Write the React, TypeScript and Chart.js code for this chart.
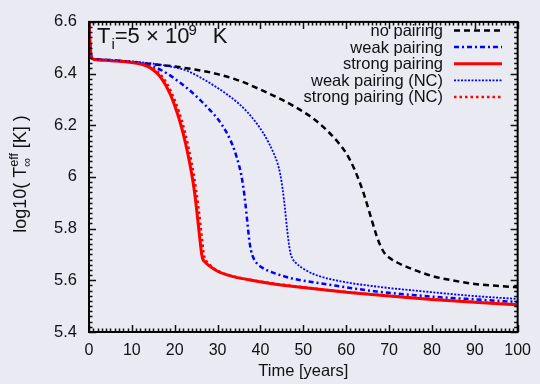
import React, { useEffect, useRef } from "react";
import { Chart, registerables } from "chart.js";
Chart.register(...registerables);

const FONT = '"Liberation Sans", Arial, Helvetica, sans-serif';

const xTicks = [0, 10, 20, 30, 40, 50, 60, 70, 80, 90, 100];
const yTicks = [5.4, 5.6, 5.8, 6, 6.2, 6.4, 6.6];

const seriesLabels = ["no pairing", "weak pairing", "strong pairing", "weak pairing (NC)", "strong pairing (NC)"];

const noPairingT = [0, 0.3, 0.7, 2, 10, 20, 25, 30, 35, 40, 45, 48, 50, 52, 54, 56, 58, 60, 61, 62, 63, 64, 65, 66, 67, 68, 69, 70, 72, 75, 80, 85, 90, 95, 100];
const noPairingV = [6.6, 6.5, 6.458, 6.455, 6.444, 6.427, 6.415, 6.398, 6.373, 6.338, 6.299, 6.272, 6.252, 6.23, 6.203, 6.172, 6.136, 6.092, 6.062, 6.027, 5.986, 5.94, 5.887, 5.831, 5.777, 5.733, 5.704, 5.688, 5.668, 5.646, 5.617, 5.599, 5.586, 5.579, 5.573];

const weakT = [0, 0.3, 0.7, 2, 5, 10, 13, 15, 17, 19, 21, 23, 25, 27, 29, 30, 31, 32, 33, 34, 35, 35.5, 36, 36.5, 37, 37.4, 37.8, 38.4, 39.2, 40.3, 42.6, 45, 48, 55.7, 66.5, 80, 90, 100];
const weakV = [6.6, 6.5, 6.458, 6.454, 6.451, 6.445, 6.436, 6.427, 6.412, 6.392, 6.368, 6.342, 6.313, 6.28, 6.245, 6.225, 6.202, 6.175, 6.142, 6.1, 6.045, 6.01, 5.96, 5.895, 5.815, 5.755, 5.715, 5.685, 5.665, 5.65, 5.632, 5.618, 5.605, 5.584, 5.558, 5.537, 5.526, 5.516];

const strongT = [0, 0.3, 0.7, 2, 5, 8, 10, 12, 13, 14, 15, 16, 17, 18, 19, 20, 21, 22, 23, 24, 24.5, 25, 25.5, 26, 26.3, 26.6, 27, 28, 30, 33, 37, 42, 50, 60, 70, 80, 90, 100];
const strongV = [6.6, 6.5, 6.458, 6.453, 6.45, 6.447, 6.443, 6.437, 6.432, 6.425, 6.414, 6.399, 6.379, 6.352, 6.318, 6.276, 6.226, 6.166, 6.094, 6.008, 5.955, 5.89, 5.815, 5.74, 5.7, 5.68, 5.672, 5.657, 5.635, 5.617, 5.603, 5.589, 5.572, 5.554, 5.539, 5.526, 5.515, 5.505];

const weakNcT = [0, 0.3, 0.7, 2, 5, 10, 15, 20, 23, 26, 29, 32, 35, 37, 39, 40.5, 42, 43, 44, 44.6, 45.2, 45.7, 46.2, 46.6, 47, 47.5, 48.2, 50, 52.7, 58.8, 66.5, 80, 90, 100];
const weakNcV = [6.6, 6.5, 6.458, 6.455, 6.452, 6.447, 6.438, 6.424, 6.41, 6.385, 6.355, 6.322, 6.283, 6.25, 6.21, 6.174, 6.13, 6.095, 6.052, 6.012, 5.95, 5.88, 5.8, 5.745, 5.705, 5.683, 5.668, 5.645, 5.622, 5.596, 5.577, 5.554, 5.539, 5.528];

const strongNcT = [0, 0.3, 0.7, 2, 5, 8, 10, 12, 13, 14, 15, 16, 17, 18, 19, 20, 21, 22, 23, 24, 24.5, 25, 25.5, 26, 26.4, 26.7, 27, 27.4, 28, 30, 33, 37, 42, 50, 60, 70, 80, 90, 100];
const strongNcV = [6.6, 6.5, 6.458, 6.454, 6.451, 6.448, 6.445, 6.44, 6.436, 6.43, 6.421, 6.408, 6.39, 6.366, 6.335, 6.297, 6.252, 6.197, 6.13, 6.05, 6.002, 5.948, 5.885, 5.815, 5.755, 5.71, 5.685, 5.674, 5.662, 5.637, 5.618, 5.604, 5.59, 5.573, 5.555, 5.54, 5.527, 5.516, 5.506];

const pts = (t: number[], v: number[]) => t.map((x, i) => ({ x, y: v[i] }));

const BG = "#eaeaf2";

const overlay = {
  id: "overlay",
  beforeDraw(chart: any) {
    const ctx = chart.ctx;
    ctx.save();
    ctx.fillStyle = BG;
    ctx.fillRect(0, 0, chart.width, chart.height);
    ctx.restore();
  },
  afterDatasetsDraw(chart: any) {
    const ctx = chart.ctx;
    const { left, right, top, bottom } = chart.chartArea;
    const xs = chart.scales.x;
    const ys = chart.scales.y;
    ctx.save();
    ctx.strokeStyle = "#111";
    ctx.lineWidth = 1.5;
    ctx.beginPath();
    for (let k = 0; k <= 100; k++) {
      const px = Math.round(xs.getPixelForValue(k)) + 0.5;
      const len = k % 10 === 0 ? 7 : 3.5;
      ctx.moveTo(px, bottom);
      ctx.lineTo(px, bottom - len);
      ctx.moveTo(px, top);
      ctx.lineTo(px, top + len);
    }
    for (let k = 0; k <= 60; k++) {
      const v = 5.4 + k * 0.02;
      const py = Math.round(ys.getPixelForValue(v)) + 0.5;
      const len = k % 10 === 0 ? 7 : 3.5;
      ctx.moveTo(left, py);
      ctx.lineTo(left + len, py);
      ctx.moveTo(right, py);
      ctx.lineTo(right - len, py);
    }
    ctx.stroke();
    ctx.strokeStyle = "#000";
    ctx.lineWidth = 2;
    ctx.strokeRect(left, top, right - left, bottom - top);
    ctx.restore();
  },
  afterDraw(chart: any) {
    const ctx = chart.ctx;
    const { left, right } = chart.chartArea;
    ctx.save();
    ctx.fillStyle = "#111";
    // legend
    ctx.font = `16.5px ${FONT}`;
    ctx.textAlign = "right";
    ctx.textBaseline = "alphabetic";
    chart.data.datasets.forEach((ds: any, i: number) => {
      const yc = 30.5 + i * 16.6;
      ctx.fillStyle = "#111";
      ctx.fillText(ds.label, 443, yc + 5.5);
      ctx.beginPath();
      ctx.strokeStyle = ds.borderColor;
      ctx.lineWidth = ds.borderWidth;
      ctx.setLineDash(ds.borderDash || []);
      ctx.moveTo(454, yc);
      ctx.lineTo(502, yc);
      ctx.stroke();
    });
    ctx.setLineDash([]);
    // x title
    ctx.fillStyle = "#111";
    ctx.textAlign = "center";
    ctx.font = `16.5px ${FONT}`;
    ctx.fillText("Time [years]", (left + right) / 2, 376);
    // annotation T_i = 5 x 10^9 K
    ctx.textAlign = "left";
    let x = 97;
    const big = `22px ${FONT}`;
    const small = `15px ${FONT}`;
    ctx.font = big;
    ctx.fillText("T", x, 43);
    x += ctx.measureText("T").width;
    ctx.font = small;
    ctx.fillText("i", x + 1, 49);
    x += ctx.measureText("i").width + 1;
    ctx.font = big;
    ctx.fillText("=5 \u00d7 10", x, 43);
    x += ctx.measureText("=5 \u00d7 10").width;
    ctx.font = small;
    ctx.fillText("9", x - 1, 35);
    x += ctx.measureText("9").width;
    ctx.font = big;
    ctx.fillText("K", x + 15, 43);
    // y title
    ctx.translate(26, 174);
    ctx.rotate(-Math.PI / 2);
    const main = `18px ${FONT}`;
    const sub = `12.5px ${FONT}`;
    ctx.font = main;
    const w1 = ctx.measureText("log10( T").width;
    const w3 = ctx.measureText(" [K] )").width;
    ctx.font = sub;
    const w2 = Math.max(ctx.measureText("eff").width, ctx.measureText("\u221e").width);
    const W = w1 + w2 + w3;
    let lx = -W / 2;
    ctx.font = main;
    ctx.fillText("log10( T", lx, 0);
    lx += w1;
    ctx.font = sub;
    ctx.fillText("eff", lx, -8.5);
    ctx.fillText("\u221e", lx, 5);
    lx += w2;
    ctx.font = main;
    ctx.fillText(" [K] )", lx, 0);
    ctx.restore();
  },
};

export default function App() {
  const ref = useRef<HTMLCanvasElement | null>(null);
  useEffect(() => {
    if (!ref.current) return;
    const chart = new Chart(ref.current, {
      type: "line",
      data: {
        datasets: [
          {
            label: seriesLabels[0],
            data: pts(noPairingT, noPairingV),
            borderColor: "#000000",
            borderWidth: 2.5,
            borderDash: [6, 4],
            order: 5,
          },
          {
            label: seriesLabels[1],
            data: pts(weakT, weakV),
            borderColor: "#0000ff",
            borderWidth: 2.5,
            borderDash: [5, 3, 2, 3],
            order: 4,
          },
          {
            label: seriesLabels[2],
            data: pts(strongT, strongV),
            borderColor: "#ff0000",
            borderWidth: 3,
            borderDash: [],
            order: 3,
          },
          {
            label: seriesLabels[3],
            data: pts(weakNcT, weakNcV),
            borderColor: "#0000ff",
            borderWidth: 1.8,
            borderDash: [2, 1.5],
            order: 2,
          },
          {
            label: seriesLabels[4],
            data: pts(strongNcT, strongNcV),
            borderColor: "#ff0000",
            borderWidth: 2.5,
            borderDash: [2.5, 3],
            order: 1,
          },
        ] as any,
      },
      options: {
        animation: false,
        responsive: false,
        maintainAspectRatio: false,
        layout: { padding: { top: 14, right: 18.5, left: 0, bottom: 0 } },
        elements: {
          point: { radius: 0 },
          line: { cubicInterpolationMode: "monotone", borderCapStyle: "butt" },
        },
        plugins: { legend: { display: false }, tooltip: { enabled: false }, title: { display: false } },
        scales: {
          x: {
            type: "linear",
            min: 0,
            max: 100,
            grid: { display: false, drawTicks: false },
            border: { display: false },
            afterBuildTicks: (s: any) => {
              s.ticks = xTicks.map((v) => ({ value: v }));
            },
            afterFit: (s: any) => {
              s.height = 52;
            },
            ticks: {
              autoSkip: false,
              maxRotation: 0,
              padding: 9,
              color: "#111",
              font: { family: FONT, size: 16 },
              callback: (v: any) => String(v),
            },
          },
          y: {
            type: "linear",
            min: 5.4,
            max: 6.6,
            grid: { display: false, drawTicks: false },
            border: { display: false },
            afterBuildTicks: (s: any) => {
              s.ticks = yTicks.map((v) => ({ value: v }));
            },
            afterFit: (s: any) => {
              s.width = 89;
            },
            ticks: {
              autoSkip: false,
              padding: 12,
              color: "#111",
              font: { family: FONT, size: 16.5 },
              callback: (v: any) => String(Number(Number(v).toFixed(2))),
            },
          },
        },
      } as any,
      plugins: [overlay],
    });
    return () => chart.destroy();
  }, []);
  return (
    <div style={{ position: "absolute", left: 0, top: 0, width: 540, height: 384, background: BG }}>
      <canvas ref={ref} width={540} height={384} style={{ display: "block", width: 540, height: 384 }} />
    </div>
  );
}
